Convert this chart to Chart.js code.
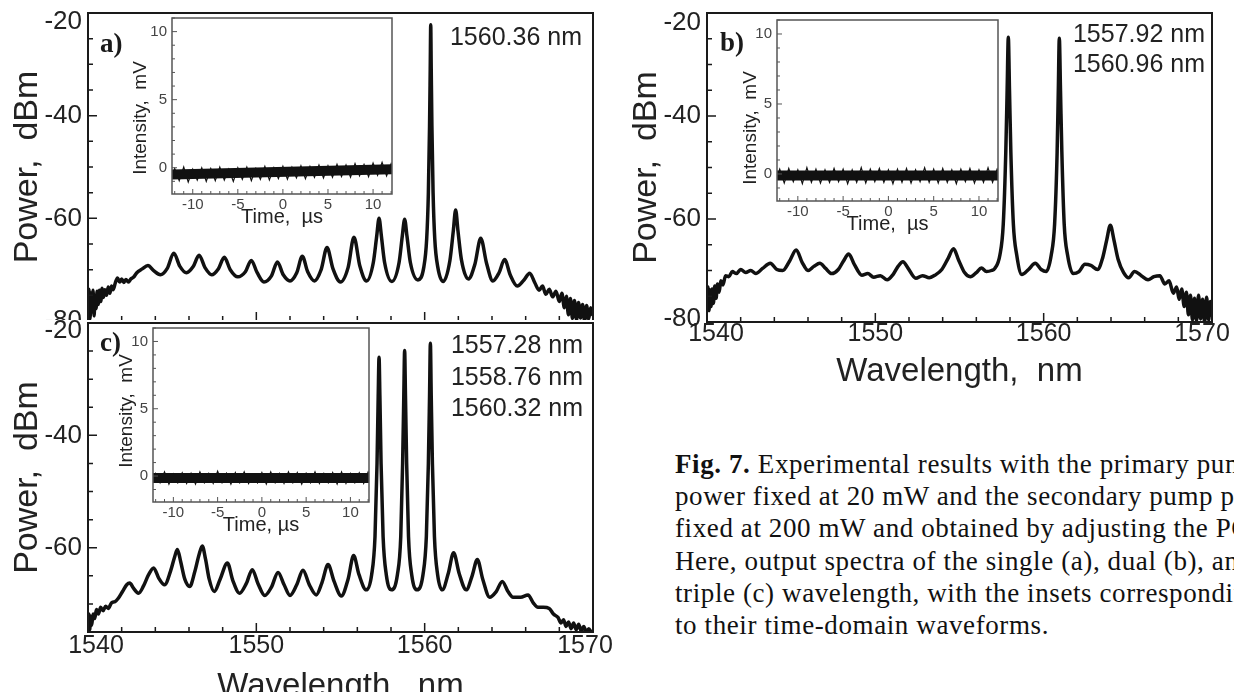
<!DOCTYPE html>
<html>
<head>
<meta charset="utf-8">
<title>Fig. 7 spectra</title>
<script src="https://cdn.jsdelivr.net/npm/chart.js"></script>
<style>
  html, body { margin: 0; padding: 0; background: #fff; }
  body { width: 1234px; height: 692px; position: relative; overflow: hidden;
         font-family: "Liberation Sans", Arial, sans-serif; color: #1a1a1a; }
  canvas { position: absolute; }
  .txt { position: absolute; white-space: nowrap; line-height: 1; }
  .nm { font-size: 25px; text-align: right; color: #222; }
  .tag { font-family: "Liberation Serif", serif; font-weight: bold; font-size: 27px; }
  .ylab { font-size: 19px; color: #222; transform: translate(-50%, -50%) rotate(-90deg); }
  .caption { position: absolute; left: 675px; top: 448px; font-family: "Liberation Serif", serif;
             font-size: 27px; letter-spacing: 0.6px; line-height: 32.2px; white-space: nowrap; color: #111; }
</style>
</head>
<body>

<canvas id="chartA" width="640" height="345" style="left:0;top:0"></canvas>
<canvas id="insetA" width="282" height="232" style="left:118px;top:8px"></canvas>
<div class="txt tag" style="left:100px;top:30px">a)</div>
<div class="txt nm" style="right:652px;top:24px">1560.36 nm</div>
<div class="txt ylab" style="left:139px;top:118px">Intensity,&nbsp; mV</div>

<canvas id="chartC" width="640" height="390" style="left:0;top:320px;background:#fff"></canvas>
<canvas id="insetC" width="278" height="230" style="left:99px;top:318px"></canvas>
<div class="txt tag" style="left:100px;top:329px">c)</div>
<div class="txt nm" style="right:651px;top:329px;line-height:31.5px">1557.28 nm<br>1558.76 nm<br>1560.32 nm</div>
<div class="txt ylab" style="left:125px;top:411px">Intensity,&nbsp; mV</div>

<canvas id="chartB" width="650" height="400" style="left:610px;top:0"></canvas>
<canvas id="insetB" width="283" height="237" style="left:723px;top:10px"></canvas>
<div class="txt tag" style="left:720px;top:29px">b)</div>
<div class="txt nm" style="right:29px;top:18px;line-height:30px">1557.92 nm<br>1560.96 nm</div>
<div class="txt ylab" style="left:749px;top:128px">Intensity,&nbsp; mV</div>

<div class="caption">
  <div><b>Fig. 7.</b> Experimental results with the primary pump</div>
  <div>power fixed at 20 mW and the secondary pump power</div>
  <div>fixed at 200 mW and obtained by adjusting the PC.</div>
  <div>Here, output spectra of the single (a), dual (b), and</div>
  <div>triple (c) wavelength, with the insets corresponding</div>
  <div>to their time-domain waveforms.</div>
</div>

<script>
// ---- spectra: wavelength (nm) / power (dBm) ----
const wlA = [1540.00,1540.06,1540.12,1540.18,1540.24,1540.30,1540.36,1540.42,1540.48,1540.54,
  1540.60,1540.68,1540.76,1540.84,1540.92,1541.00,1541.10,1541.20,1541.30,1541.40,
  1541.50,1541.62,1541.75,1541.88,1542.00,1542.12,1542.25,1542.40,1542.55,1542.70,
  1542.90,1543.20,1543.56,1543.90,1544.30,1544.70,1545.10,1545.45,1545.85,1546.25,
  1546.60,1546.95,1547.35,1547.75,1548.10,1548.45,1548.90,1549.35,1549.70,1550.05,
  1550.45,1550.90,1551.25,1551.60,1552.00,1552.40,1552.73,1553.05,1553.45,1553.85,
  1554.20,1554.55,1555.00,1555.45,1555.80,1556.15,1556.55,1556.95,1557.15,1557.29,
  1557.43,1557.62,1558.05,1558.48,1558.67,1558.81,1558.95,1559.15,1559.60,1559.95,
  1560.12,1560.22,1560.29,1560.33,1560.36,1560.39,1560.43,1560.50,1560.60,1560.78,
  1561.10,1561.50,1561.70,1561.84,1561.98,1562.18,1562.60,1562.98,1563.33,1563.68,
  1564.05,1564.42,1564.75,1565.08,1565.50,1565.90,1566.24,1566.55,1566.80,1567.00,
  1567.20,1567.40,1567.60,1567.80,1568.00,1568.15,1568.30,1568.42,1568.54,1568.66,
  1568.78,1568.90,1569.02,1569.14,1569.26,1569.38,1569.50,1569.62,1569.74,1569.86,
  1570.00];
const pwA = [-77.5,-73.8,-79.6,-74.6,-78.2,-74.0,-79.0,-75.2,-77.6,-74.2,
  -76.8,-74.0,-76.2,-73.6,-75.4,-73.9,-75.0,-73.4,-74.6,-73.2,
  -73.9,-72.6,-71.6,-72.4,-71.8,-72.5,-71.9,-72.4,-71.8,-71.5,
  -70.6,-69.9,-69.2,-70.2,-71.0,-69.8,-66.8,-69.3,-70.6,-69.4,
  -67.2,-69.6,-71.0,-69.8,-67.6,-70.0,-71.4,-70.4,-68.2,-70.6,
  -72.4,-71.2,-68.5,-71.0,-72.2,-70.6,-67.4,-70.4,-72.2,-70.0,
  -65.7,-69.8,-72.4,-69.6,-63.7,-69.3,-72.2,-68.6,-63.5,-60.0,
  -63.5,-68.6,-72.3,-68.6,-63.5,-60.2,-63.5,-68.6,-72.0,-69.5,
  -64.0,-55.0,-42.0,-31.0,-22.3,-31.0,-42.0,-55.0,-64.0,-69.5,
  -72.3,-68.2,-62.5,-58.4,-62.5,-68.0,-71.8,-69.0,-63.9,-68.8,
  -72.2,-70.6,-68.0,-71.0,-73.2,-72.0,-70.7,-72.6,-74.0,-73.2,
  -74.8,-73.8,-75.3,-74.2,-76.2,-74.6,-77.4,-75.2,-78.8,-75.6,
  -79.5,-76.0,-79.8,-76.4,-79.4,-76.8,-80.0,-77.0,-79.6,-77.4,
  -79.0];

const wlB = [1540.00,1540.06,1540.12,1540.18,1540.24,1540.30,1540.38,1540.46,1540.54,1540.62,
  1540.72,1540.82,1540.95,1541.10,1541.30,1541.50,1541.75,1542.00,1542.30,1542.60,
  1542.90,1543.30,1543.76,1544.15,1544.50,1544.90,1545.30,1545.65,1546.00,1546.35,
  1546.70,1547.05,1547.40,1547.80,1548.10,1548.42,1548.75,1549.20,1549.55,1549.90,
  1550.30,1550.70,1551.05,1551.35,1551.64,1551.95,1552.40,1552.80,1553.20,1553.55,
  1553.95,1554.30,1554.65,1554.95,1555.30,1555.64,1556.00,1556.30,1556.60,1556.90,
  1557.10,1557.40,1557.60,1557.75,1557.83,1557.90,1557.97,1558.05,1558.20,1558.40,
  1558.70,1559.10,1559.50,1559.85,1560.15,1560.45,1560.65,1560.80,1560.87,1560.93,
  1561.00,1561.08,1561.22,1561.42,1561.75,1562.10,1562.45,1562.80,1563.20,1563.50,
  1563.75,1563.96,1564.17,1564.42,1564.75,1565.05,1565.40,1565.80,1566.20,1566.55,
  1566.90,1567.20,1567.45,1567.70,1567.90,1568.05,1568.20,1568.35,1568.48,1568.60,
  1568.72,1568.84,1568.96,1569.08,1569.20,1569.32,1569.44,1569.56,1569.68,1569.80,
  1569.90,1570.00];
const pwB = [-75.5,-73.2,-77.8,-73.8,-77.0,-73.6,-76.4,-73.0,-75.4,-72.6,
  -74.2,-72.0,-72.8,-71.0,-71.2,-70.2,-70.6,-69.8,-70.4,-70.0,
  -70.6,-69.6,-68.6,-69.8,-70.0,-68.2,-66.0,-68.4,-70.0,-69.2,
  -68.6,-69.6,-70.6,-69.8,-68.2,-66.8,-68.8,-70.9,-70.6,-71.3,
  -71.0,-71.8,-70.8,-69.2,-68.3,-69.6,-71.5,-71.0,-71.4,-70.9,
  -69.8,-67.8,-65.8,-68.0,-70.4,-71.2,-70.4,-69.5,-70.2,-70.0,
  -69.6,-67.0,-61.0,-47.0,-35.0,-24.7,-35.0,-47.0,-61.0,-67.0,
  -70.8,-69.8,-68.6,-69.8,-70.2,-67.0,-61.0,-47.0,-35.0,-24.9,
  -35.0,-47.0,-61.0,-67.0,-70.6,-70.2,-68.8,-69.0,-69.8,-67.6,
  -64.0,-61.2,-64.0,-67.8,-70.4,-71.4,-70.2,-71.0,-71.8,-71.2,
  -71.0,-72.6,-72.0,-74.4,-73.2,-75.6,-73.6,-77.0,-74.2,-78.6,
  -74.8,-79.6,-75.4,-79.8,-74.8,-79.4,-75.6,-80.0,-75.2,-79.6,
  -76.0,-79.0];

const wlC = [1540.00,1540.05,1540.10,1540.16,1540.22,1540.30,1540.40,1540.50,1540.62,1540.75,
  1540.90,1541.05,1541.20,1541.40,1541.60,1541.80,1542.05,1542.30,1542.48,1542.70,
  1543.00,1543.30,1543.60,1543.90,1544.20,1544.55,1544.90,1545.15,1545.31,1545.50,
  1545.75,1546.04,1546.35,1546.60,1546.79,1546.98,1547.20,1547.50,1547.85,1548.28,
  1548.60,1549.00,1549.40,1549.76,1550.10,1550.50,1550.90,1551.29,1551.65,1552.00,
  1552.40,1552.77,1553.15,1553.56,1553.90,1554.26,1554.62,1555.05,1555.45,1555.78,
  1556.10,1556.53,1556.85,1557.05,1557.17,1557.24,1557.29,1557.34,1557.41,1557.53,
  1557.72,1558.03,1558.38,1558.58,1558.69,1558.76,1558.81,1558.86,1558.93,1559.04,
  1559.23,1559.55,1559.90,1560.10,1560.22,1560.29,1560.34,1560.39,1560.46,1560.58,
  1560.77,1561.05,1561.40,1561.72,1562.05,1562.47,1562.82,1563.13,1563.45,1563.86,
  1564.25,1564.61,1564.95,1565.25,1565.70,1566.14,1566.45,1566.73,1567.05,1567.40,
  1567.65,1567.92,1568.10,1568.25,1568.40,1568.55,1568.70,1568.85,1569.00,1569.15,
  1569.30,1569.45,1569.60,1569.75,1569.90,1570.00];
const pwC = [-73.4,-71.8,-74.6,-72.2,-73.8,-71.8,-72.6,-71.0,-71.8,-70.6,
  -71.2,-70.4,-70.8,-69.8,-69.6,-69.0,-67.8,-66.6,-66.3,-67.2,
  -68.1,-66.8,-64.8,-63.6,-65.4,-66.6,-64.2,-61.6,-60.3,-62.4,
  -65.6,-66.9,-64.2,-61.2,-59.7,-62.0,-65.6,-67.8,-65.6,-62.7,
  -65.8,-68.1,-66.4,-63.9,-66.4,-68.5,-67.0,-64.4,-66.6,-68.5,
  -66.6,-64.0,-66.6,-68.4,-66.2,-63.0,-66.0,-68.6,-65.6,-61.4,
  -64.8,-67.5,-64.8,-58.0,-45.0,-33.0,-26.1,-33.0,-45.0,-58.0,
  -64.8,-67.5,-64.8,-58.0,-45.0,-33.0,-24.9,-33.0,-45.0,-58.0,
  -64.8,-67.5,-64.8,-58.0,-45.0,-33.0,-23.6,-33.0,-45.0,-58.0,
  -64.8,-67.5,-64.6,-60.9,-64.6,-67.5,-65.0,-62.1,-65.6,-68.8,
  -67.8,-66.0,-67.8,-68.8,-68.8,-68.4,-69.8,-70.6,-70.6,-70.8,
  -71.8,-72.4,-73.4,-72.8,-74.0,-73.2,-74.4,-73.4,-74.6,-73.6,
  -74.8,-74.0,-75.0,-74.4,-75.0,-75.0];

// ---- inset waveforms: time (us) / intensity (mV) ----
const tInset = [-12.5,-12,-11.5,-11,-10.5,-10,-9.5,-9,-8.5,-8,-7.5,-7,-6.5,-6,-5.5,-5,-4.5,-4,
  -3.5,-3,-2.5,-2,-1.5,-1,-0.5,0,0.5,1,1.5,2,2.5,3,3.5,4,4.5,5,5.5,6,6.5,7,7.5,8,8.5,9,
  9.5,10,10.5,11,11.5,12,12.5];
const insetA = [-1.0,-0.05,-0.95,0.05,-1.05,-0.1,-0.9,0.0,-1.0,-0.05,
  -0.95,0.05,-0.9,-0.1,-1.0,0.0,-0.85,0.05,-0.95,-0.05,
  -0.85,0.1,-0.9,0.0,-0.8,0.1,-0.85,0.05,-0.75,0.15,
  -0.8,0.1,-0.7,0.2,-0.75,0.15,-0.7,0.25,-0.65,0.2,
  -0.7,0.3,-0.6,0.25,-0.65,0.35,-0.55,0.4,-0.6,0.3,-0.55];
const insetB = [-0.6,0.35,-0.65,0.4,-0.55,0.3,-0.7,0.45,-0.6,0.35,
  -0.65,0.3,-0.6,0.4,-0.55,0.35,-0.7,0.3,-0.6,0.45,
  -0.65,0.35,-0.55,0.4,-0.6,0.3,-0.7,0.35,-0.6,0.4,
  -0.65,0.3,-0.55,0.45,-0.6,0.35,-0.65,0.4,-0.6,0.3,
  -0.7,0.35,-0.55,0.4,-0.65,0.3,-0.6,0.45,-0.6,0.35,-0.65];
const insetC = [-0.55,0.2,-0.5,0.3,-0.6,0.15,-0.5,0.25,-0.55,0.2,
  -0.6,0.3,-0.5,0.2,-0.55,0.35,-0.5,0.2,-0.6,0.25,
  -0.5,0.3,-0.55,0.15,-0.5,0.25,-0.6,0.3,-0.5,0.2,
  -0.55,0.3,-0.5,0.25,-0.6,0.2,-0.5,0.3,-0.55,0.2,
  -0.5,0.25,-0.6,0.3,-0.55,0.2,-0.5,0.25,-0.55,0.3,-0.5];
const coreT = [-12.5, 12.5];
const coreA = [-0.5, -0.1];
const coreB = [-0.1, -0.1];
const coreC = [-0.15, -0.15];

// ---- ticks ----
const wlTicks = [1540, 1550, 1560, 1570];
const wlMinor = [1540,1542,1544,1546,1548,1550,1552,1554,1556,1558,1560,1562,1564,1566,1568,1570];
const pwTicksAB = [-80, -60, -40, -20];
const pwTicksC = [-60, -40, -20];
const pwMinor = [-80,-75,-70,-65,-60,-55,-50,-45,-40,-35,-30,-25,-20];
const tTicks = [-10, -5, 0, 5, 10];
const tMinor = [-12,-11,-10,-9,-8,-7,-6,-5,-4,-3,-2,-1,0,1,2,3,4,5,6,7,8,9,10,11,12];
const mvTicks = [0, 5, 10];
const mvMinor = [-1,0,1,2,3,4,5,6,7,8,9,10,11];

Chart.defaults.font.family = '"Liberation Sans", Arial, sans-serif';
Chart.defaults.color = '#222';

const pts = (xs, ys) => xs.map((x, i) => ({ x: x, y: ys[i] }));
const inside = (sc, v) => v >= Math.min(sc.min, sc.max) - 1e-9 && v <= Math.max(sc.min, sc.max) + 1e-9;

// frame, inward ticks and (optionally) axis labels drawn on the chart's own scales
function framePlugin(c) {
  return {
    id: 'frame',
    beforeDraw(chart) {
      if (!c.fill) return;
      const a = chart.chartArea, ctx = chart.ctx;
      ctx.save();
      ctx.fillStyle = '#fff';
      ctx.fillRect(a.left, a.top, a.width, a.height);
      ctx.restore();
    },
    afterDatasetsDraw(chart) {
      const a = chart.chartArea, ctx = chart.ctx, sx = chart.scales.x, sy = chart.scales.y;
      ctx.save();
      ctx.strokeStyle = c.color;
      ctx.lineWidth = c.tickW;
      ctx.beginPath();
      c.xMinor.filter(v => inside(sx, v)).forEach(v => {
        const p = sx.getPixelForValue(v), len = c.xMajor.includes(v) ? c.major : c.minor;
        ctx.moveTo(p, a.bottom); ctx.lineTo(p, a.bottom - len);
      });
      c.yMinor.filter(v => inside(sy, v)).forEach(v => {
        const p = sy.getPixelForValue(v), len = c.yMajor.includes(v) ? c.major : c.minor;
        ctx.moveTo(a.left, p); ctx.lineTo(a.left + len, p);
      });
      ctx.stroke();
      ctx.lineWidth = c.frameW;
      ctx.strokeRect(a.left, a.top, a.width, a.height);
      ctx.fillStyle = '#222';
      if (c.yLabels) {
        ctx.font = '26px "Liberation Sans"';
        ctx.textAlign = 'right';
        ctx.textBaseline = 'middle';
        c.yLabels.forEach(v => {
          ctx.fillText(String(v), a.left - 6, sy.getPixelForValue(v) + (c.yShift[v] || 0));
        });
      }
      if (c.xLabels) {
        ctx.font = '25px "Liberation Sans"';
        ctx.textAlign = 'center';
        ctx.textBaseline = 'middle';
        c.xLabels.forEach(v => {
          ctx.fillText(String(v), sx.getPixelForValue(v) + (c.xShift[v] || 0), a.bottom + c.xLabelGap);
        });
      }
      ctx.restore();
    }
  };
}

function spectrum(id, wl, pw, s) {
  return new Chart(document.getElementById(id), {
    type: 'line',
    data: { datasets: [{ data: pts(wl, pw), borderColor: '#111', borderWidth: 3.5,
      pointRadius: 0, cubicInterpolationMode: 'monotone' }] },
    options: {
      responsive: false, animation: false, devicePixelRatio: 1,
      layout: { padding: { top: s.top, right: s.right, left: 0, bottom: 0 } },
      plugins: { legend: { display: false }, tooltip: { enabled: false } },
      scales: {
        x: {
          type: 'linear', min: 1540, max: 1570,
          afterBuildTicks: sc => { sc.ticks = wlTicks.map(v => ({ value: v })); },
          afterFit: sc => { sc.height = s.xh; sc.paddingLeft = 0; sc.paddingRight = 0; },
          grid: { display: false, drawTicks: false }, border: { display: false },
          ticks: { display: false },
          title: { display: s.showX, text: 'Wavelength,  nm', color: '#222',
            font: { size: 33, lineHeight: 1 }, padding: { top: 0, bottom: s.tpad } }
        },
        y: {
          type: 'linear', min: s.ymin, max: -20,
          afterFit: sc => { sc.width = s.yw; sc.paddingTop = 0; sc.paddingBottom = 0; },
          grid: { display: false, drawTicks: false }, border: { display: false },
          ticks: { display: false },
          title: { display: true, text: 'Power,  dBm', color: '#222',
            font: { size: 34, lineHeight: 1 }, padding: { top: s.ypad, bottom: 0 } }
        }
      }
    },
    plugins: [framePlugin({ color: '#1a1a1a', frameW: 2, tickW: 1.5, minor: 5, major: 9,
      xMinor: wlMinor, xMajor: wlTicks, yMinor: pwMinor, yMajor: [-80, -60, -40, -20],
      yLabels: s.yLabels, yShift: s.yShift,
      xLabels: s.showX ? wlTicks : null, xShift: s.xShift, xLabelGap: s.xGap })]
  });
}

function inset(id, vals, core, timeTitle) {
  return new Chart(document.getElementById(id), {
    type: 'line',
    data: { datasets: [
      { data: pts(coreT, core), borderColor: '#111', borderWidth: 10, pointRadius: 0 },
      { data: pts(tInset, vals), borderColor: '#111', borderWidth: 1.2, pointRadius: 0 }
    ] },
    options: {
      responsive: false, animation: false, devicePixelRatio: 1,
      layout: { padding: { top: 10, right: 8, left: 0, bottom: 0 } },
      plugins: { legend: { display: false }, tooltip: { enabled: false } },
      scales: {
        x: {
          type: 'linear', min: -12.3, max: 12.1,
          afterBuildTicks: sc => { sc.ticks = tTicks.map(v => ({ value: v })); },
          afterFit: sc => { sc.height = 46; sc.paddingLeft = 0; sc.paddingRight = 0; },
          grid: { display: false, drawTicks: false }, border: { display: false },
          ticks: { autoSkip: false, maxRotation: 0, padding: 3, color: '#444',
            font: { size: 15, lineHeight: 1 }, callback: v => String(v) },
          title: { display: true, text: timeTitle, color: '#222',
            font: { size: 20, lineHeight: 1 }, padding: { top: 0, bottom: 13 } }
        },
        y: {
          type: 'linear', min: -1.93, max: 11.0,
          afterBuildTicks: sc => { sc.ticks = mvTicks.map(v => ({ value: v })); },
          afterFit: sc => { sc.width = 54; sc.paddingTop = 0; sc.paddingBottom = 0; },
          grid: { display: false, drawTicks: false }, border: { display: false },
          ticks: { padding: 5, color: '#444', font: { size: 15, lineHeight: 1 },
            callback: v => String(v) }
        }
      }
    },
    plugins: [framePlugin({ fill: true, color: '#555', frameW: 1.5, tickW: 1, minor: 3, major: 5,
      xMinor: tMinor, xMajor: tTicks, yMinor: mvMinor, yMajor: mvTicks })]
  });
}

spectrum('chartA', wlA, pwA, { top: 13, right: 47, yw: 88, xh: 24, showX: false, tpad: 0,
  ypad: 11, ymin: -80, yLabels: pwTicksAB, yShift: { '-20': 9 } });
spectrum('chartC', wlC, pwC, { top: 3, right: 47, yw: 88, xh: 78, showX: true, tpad: 7,
  ypad: 11, ymin: -75, yLabels: pwTicksC, yShift: { '-20': 8 },
  xShift: { '1540': 8, '1570': -8 }, xGap: 14 });
spectrum('chartB', wlB, pwB, { top: 13, right: 48, yw: 97, xh: 78, showX: true, tpad: 12,
  ypad: 20, ymin: -80, yLabels: pwTicksAB, yShift: { '-20': 10, '-80': -3 },
  xShift: { '1540': 9, '1570': -10 }, xGap: 12 });

inset('insetA', insetA, coreA, 'Time,  µs');
inset('insetB', insetB, coreB, 'Time,  µs');
inset('insetC', insetC, coreC, 'Time, µs');
</script>
</body>
</html>
